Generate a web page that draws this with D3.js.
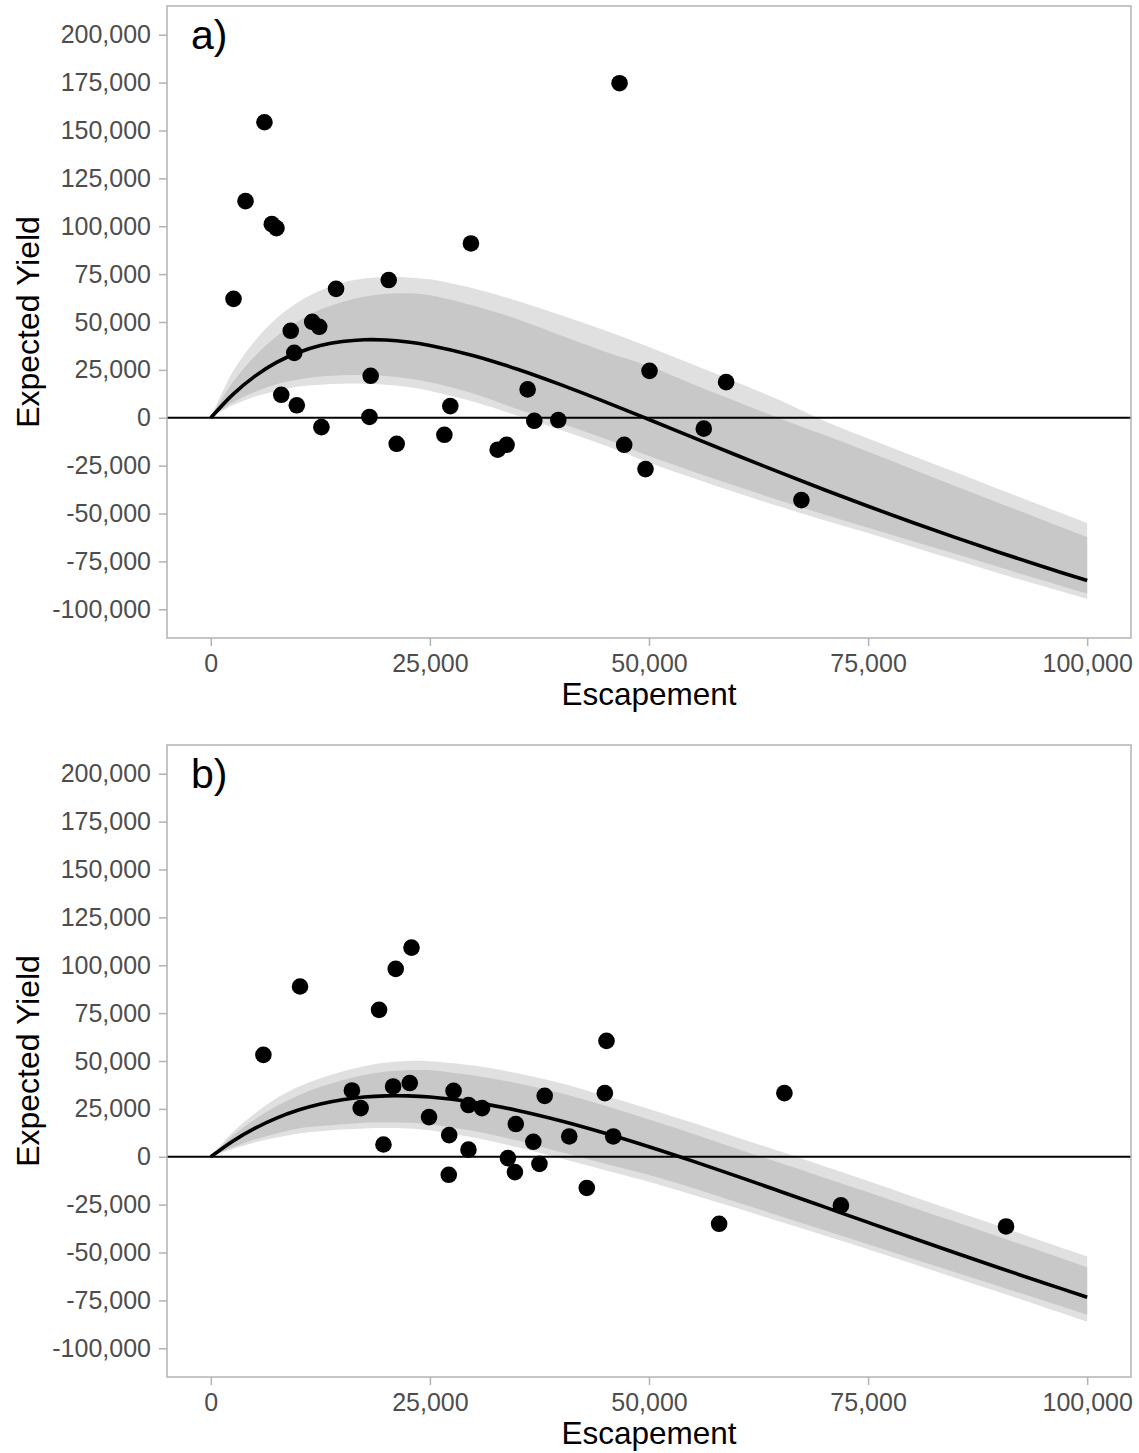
<!DOCTYPE html>
<html>
<head>
<meta charset="utf-8">
<script src="https://cdn.jsdelivr.net/npm/d3@7"></script>
<style>
  body { margin: 0; background: #fff; }
  text { font-family: "Liberation Sans", Arial, sans-serif; }
</style>
</head>
<body>
<div id="chart"></div>
<script>
// Escapement grid used by the fitted curves and their bands
let escGrid = [0, 2500, 5000, 7500, 10000, 12500, 15000, 17500, 20000, 22500, 25000,
    30000, 35000, 40000, 45000, 50000, 55000, 60000, 65000, 70000, 75000,
    80000, 85000, 90000, 95000, 100000];

// Panel a) fitted yield and bands (read off the picture)
let meanA = [0, 12100, 21600, 28900, 34100, 37700, 39800, 40750, 40600, 39560, 37770,
    32430, 25350, 17160, 8290, -930, -10270, -19560, -28690, -37600, -46230,
    -54570, -62610, -70350, -77820, -85010];
let innerLoA = [0, 8000, 13500, 17500, 20000, 21500, 22200, 22300, 21800, 20500, 18500,
    12500, 4500, -3000, -11000, -20000, -28000, -35800, -43300, -50500, -57400,
    -64300, -71200, -78100, -85000, -91900];
let innerHiA = [0, 18500, 32000, 42500, 50500, 56500, 60500, 63200, 64800, 65000, 64000,
    58500, 51500, 43000, 34500, 27000, 17500, 8500, -500, -9000, -17800,
    -26800, -35800, -44600, -53500, -62300];
let outerLoA = [0, 6500, 11000, 14000, 16300, 17300, 17800, 17800, 17300, 16000, 14000,
    8300, 1000, -6500, -14500, -23500, -31500, -39200, -46500, -53500, -60200,
    -67300, -74300, -81300, -88000, -94600];
let outerHiA = [0, 24000, 40000, 52000, 60500, 66500, 70500, 72700, 73500, 73300, 72300,
    67500, 61000, 53500, 45500, 37000, 27800, 18500, 9000, -1700, -10800,
    -19700, -28500, -37400, -46200, -55000];

// Panel a) observations
let escA = [2590, 3960, 6120, 6960, 7490, 8040, 9120, 9520, 9810, 11570, 12370, 12620,
    14290, 18100, 18240, 20300, 21210, 26650, 27330, 29680, 32730, 33750, 36150,
    36910, 39650, 46640, 47170, 49600, 50060, 56250, 58800, 67390];
let yieldA = [62100, 113100, 154300, 101100, 99000, 12000, 45400, 33900, 6500, 50100, 47500, -4900,
    67300, 400, 21900, 71900, -13600, -8900, 6100, 91000, -16700, -14100, 14800,
    -1600, -1200, 174700, -14100, -26800, 24500, -5700, 18600, -43000];

// Panel b) fitted yield and bands
let meanB = [0, 8150, 14830, 20210, 24410, 27570, 29790, 31170, 31810, 31790, 31180,
    28490, 24200, 18700, 12290, 5230, -2290, -10120, -18120, -26190, -34280,
    -42320, -50270, -58100, -65780, -73320];
let innerLoB = [0, 5000, 9000, 12200, 14800, 16000, 17000, 17800, 17900, 17800, 16900,
    13500, 8500, 2300, -3600, -9500, -16300, -23700, -31000, -38400, -45700,
    -53100, -60400, -67800, -75100, -82500];
let innerHiB = [0, 11000, 19500, 26500, 32000, 36500, 40000, 42700, 44500, 45200, 45200,
    42400, 38400, 33200, 26600, 19500, 12000, 4200, -3300, -11000, -18500,
    -26300, -34100, -41900, -49700, -57600];
let outerLoB = [0, 4000, 7500, 10000, 12200, 13300, 14200, 14800, 15000, 14800, 13800,
    10000, 4900, -900, -7000, -13000, -19800, -26800, -34000, -41100, -48300,
    -55800, -63300, -70800, -78400, -86000];
let outerHiB = [0, 12800, 22500, 30500, 36500, 41000, 44500, 47300, 49200, 50000, 49900,
    47600, 43600, 38400, 31800, 25000, 17700, 10200, 2700, -5000, -12700,
    -20600, -28500, -36300, -44200, -52000];

// Panel b) observations
let escB = [6000, 10180, 16100, 17100, 19200, 19700, 20800, 21100, 22700, 22900, 24900,
    27200, 27150, 27700, 29400, 29400, 30950, 33900, 34700, 34800, 36800, 37500,
    38100, 40900, 42900, 44960, 45150, 45920, 58000, 65450, 71900, 90740];
let yieldB = [53200, 88900, 34600, 25400, 76700, 6400, 36700, 98100, 38500, 109200, 20700,
    11300, -9400, 34400, 27000, 3700, 25400, -700, -8000, 17100, 7800, -3700,
    31800, 10600, -16300, 33200, 60500, 10600, -35000, 33200, -25400, -36400];

// Axis ticks
let xTicks = [0, 25000, 50000, 75000, 100000];
let yTicks = [-100000, -75000, -50000, -25000, 0, 25000, 50000, 75000, 100000,
    125000, 150000, 175000, 200000];

let svgWidth = 1139;
let svgHeight = 1453;
let plotLeft = 167;
let plotRight = 1131;

let svg = d3.select("#chart")
    .append("svg")
    .attr("width", svgWidth)
    .attr("height", svgHeight)
    .style("background", "#fff");

// hyphen minus like the original, not the unicode minus
let locale = d3.formatLocale({decimal: ".", thousands: ",", grouping: [3], currency: ["", ""], minus: "-"});
let fmt = locale.format(",");

let xScale = d3.scaleLinear()
    .domain([-5000, 105000])
    .range([plotLeft, plotRight]);

let smooth = d3.curveCatmullRom.alpha(0.5);

function drawPanel(p) {
    let yScale = d3.scaleLinear()
        .domain([-115000, 215000])
        .range([p.bottom, p.top]);

    let g = svg.append("g");

    let rows = escGrid.map((s, i) => ({
        s: s, mean: p.mean[i],
        iLo: p.innerLo[i], iHi: p.innerHi[i],
        oLo: p.outerLo[i], oHi: p.outerHi[i]
    }));

    let outerArea = d3.area()
        .x(d => xScale(d.s))
        .y0(d => yScale(d.oLo))
        .y1(d => yScale(d.oHi))
        .curve(smooth);

    let innerArea = d3.area()
        .x(d => xScale(d.s))
        .y0(d => yScale(d.iLo))
        .y1(d => yScale(d.iHi))
        .curve(smooth);

    let meanLine = d3.line()
        .x(d => xScale(d.s))
        .y(d => yScale(d.mean))
        .curve(smooth);

    g.append("path")
        .datum(rows)
        .attr("d", outerArea)
        .attr("fill", "#e0e0e0");

    g.append("path")
        .datum(rows)
        .attr("d", innerArea)
        .attr("fill", "#c8c8c8");

    // zero line
    g.append("line")
        .attr("x1", plotLeft)
        .attr("x2", plotRight)
        .attr("y1", yScale(0))
        .attr("y2", yScale(0))
        .attr("stroke", "#000")
        .attr("stroke-width", 2);

    g.append("path")
        .datum(rows)
        .attr("d", meanLine)
        .attr("fill", "none")
        .attr("stroke", "#000")
        .attr("stroke-width", 3.6);

    g.selectAll("circle.pt")
        .data(p.esc.map((s, i) => ({s: s, y: p.yield[i]})))
        .join("circle")
        .attr("class", "pt")
        .attr("cx", d => xScale(d.s))
        .attr("cy", d => yScale(d.y))
        .attr("r", 8.3)
        .attr("fill", "#000");

    // panel border
    g.append("rect")
        .attr("x", plotLeft)
        .attr("y", p.top)
        .attr("width", plotRight - plotLeft)
        .attr("height", p.bottom - p.top)
        .attr("fill", "none")
        .attr("stroke", "#b3b3b3")
        .attr("stroke-width", 1.5);

    // axes
    let yAxis = g.append("g")
        .attr("transform", `translate(${plotLeft}, 0)`)
        .call(d3.axisLeft(yScale).tickValues(yTicks).tickFormat(fmt).tickSize(8).tickPadding(8));

    let xAxis = g.append("g")
        .attr("transform", `translate(0, ${p.bottom})`)
        .call(d3.axisBottom(xScale).tickValues(xTicks).tickFormat(fmt).tickSize(8).tickPadding(8));

    [yAxis, xAxis].forEach(ax => {
        ax.select(".domain").remove();
        ax.selectAll("line").attr("stroke", "#b3b3b3").attr("stroke-width", 1.5);
        ax.selectAll("text")
            .attr("fill", "#4d4d4d")
            .style("font-size", "25px")
            .style("font-family", "'Liberation Sans', Arial, sans-serif");
    });

    // axis titles
    g.append("text")
        .attr("x", (plotLeft + plotRight) / 2)
        .attr("y", p.bottom + 67)
        .attr("text-anchor", "middle")
        .style("font-size", "31.5px")
        .attr("fill", "#000")
        .text("Escapement");

    g.append("text")
        .attr("transform", `translate(39, ${(p.top + p.bottom) / 2}) rotate(-90)`)
        .attr("text-anchor", "middle")
        .style("font-size", "32px")
        .attr("fill", "#000")
        .text("Expected Yield");

    // panel tag
    g.append("text")
        .attr("x", 191)
        .attr("y", p.top + 43)
        .style("font-size", "41px")
        .attr("fill", "#000")
        .text(p.label);
}

drawPanel({top: 6, bottom: 638, label: "a)", mean: meanA, innerLo: innerLoA, innerHi: innerHiA,
    outerLo: outerLoA, outerHi: outerHiA, esc: escA, yield: yieldA});
drawPanel({top: 745, bottom: 1377, label: "b)", mean: meanB, innerLo: innerLoB, innerHi: innerHiB,
    outerLo: outerLoB, outerHi: outerHiB, esc: escB, yield: yieldB});
</script>
</body>
</html>
